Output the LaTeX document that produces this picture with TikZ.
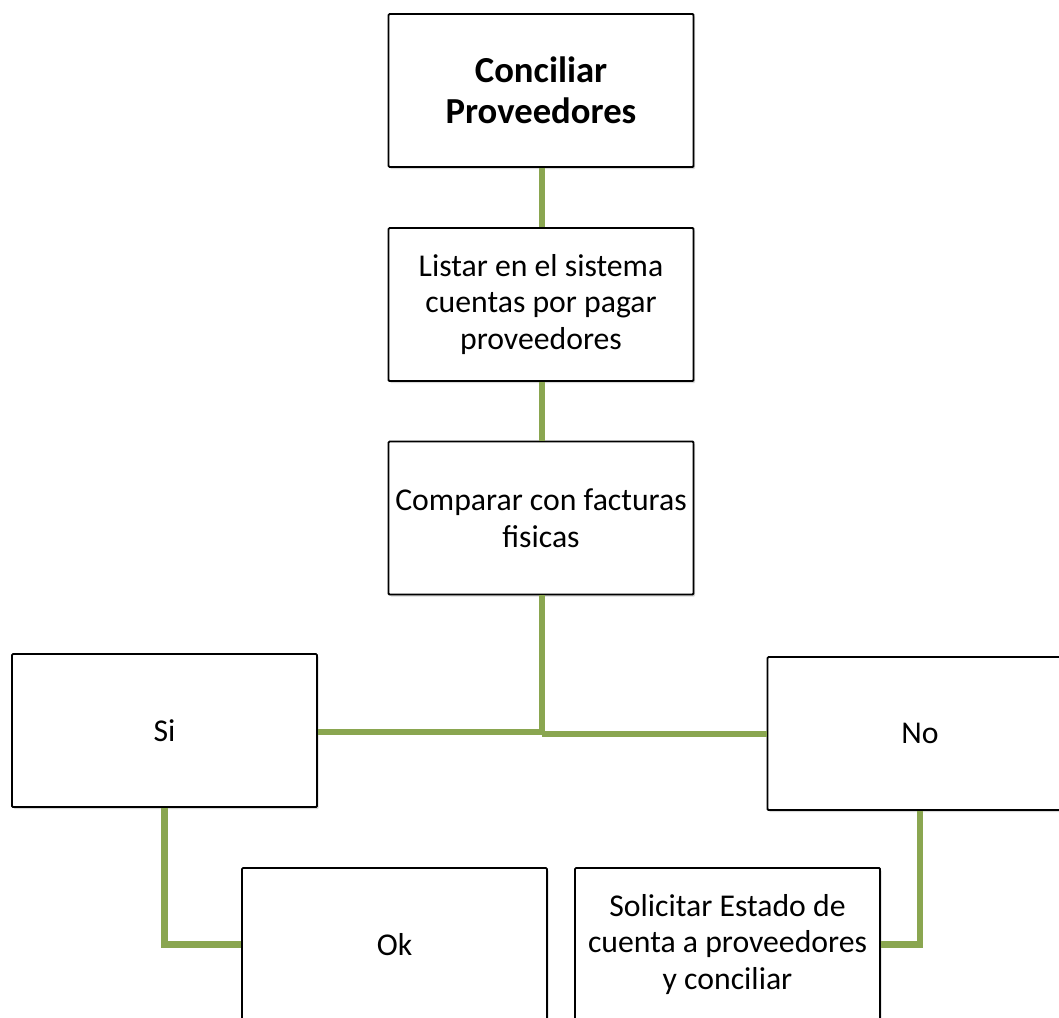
\documentclass[tikz,border=0pt]{standalone}
\usepackage{fontspec}
\setmainfont{Carlito}
\usetikzlibrary{shadows}
\definecolor{linkgreen}{RGB}{138,166,80}
\begin{document}
\begin{tikzpicture}[x=0.75pt,y=-0.75pt,
  box/.style={draw=black,line width=1.4pt,fill=white,rounded corners=0.8pt,
    minimum width=228.75pt,minimum height=114.75pt,align=center,inner sep=1pt,
    font=\fontsize{23.8}{27.5}\selectfont,
    drop shadow={shadow xshift=1.2pt,shadow yshift=-1.5pt,opacity=0.25,fill=black!60}},
  titlebox/.style={box,font=\fontsize{27.5}{30.5}\selectfont\bfseries},
  link/.style={draw=linkgreen,line width=5.2pt,line join=miter}]
\useasboundingbox (0,0) rectangle (1059,1017);
\clip (0,0) rectangle (1059,1017);

% box centres
\coordinate (titleC) at (541,90.5);
\coordinate (listC) at (541,304.5);
\coordinate (compC) at (541,518);
\coordinate (siC) at (164.5,730.5);
\coordinate (noC) at (920,733.5);
\coordinate (okC) at (394.5,944.5);
\coordinate (solC) at (727.5,944.5);

\node[titlebox] (title) at (titleC) {Conciliar\\Proveedores};
\node[box] (list) at (listC) {Listar en el sistema\\cuentas por pagar\\proveedores};
\node[box] (comp) at (compC) {Comparar con facturas\\fisicas};
\node[box] (si) at (siC) {Si};
\node[box] (no) at (noC) {No};
\node[box] (ok) at (okC) {Ok};
\node[box] (sol) at (solC) {Solicitar Estado de\\cuenta a proveedores\\y conciliar};

% branching point under the comparison step
\coordinate (split) at (542,734);

\draw[link] ([xshift=0.75pt]title.south) -- ([xshift=0.75pt]list.north);
\draw[link] ([xshift=0.75pt]list.south) -- ([xshift=0.75pt]comp.north);
\draw[link] ([xshift=0.75pt]comp.south) -- (split);
\draw[link] (split |- 0,732) -- (si.east |- 0,732);
\draw[link] (split) -- (no.west |- split);
\draw[link] (si.south) |- (ok.west);
\draw[link] (no.south) |- (sol.east);
\end{tikzpicture}
\end{document}
